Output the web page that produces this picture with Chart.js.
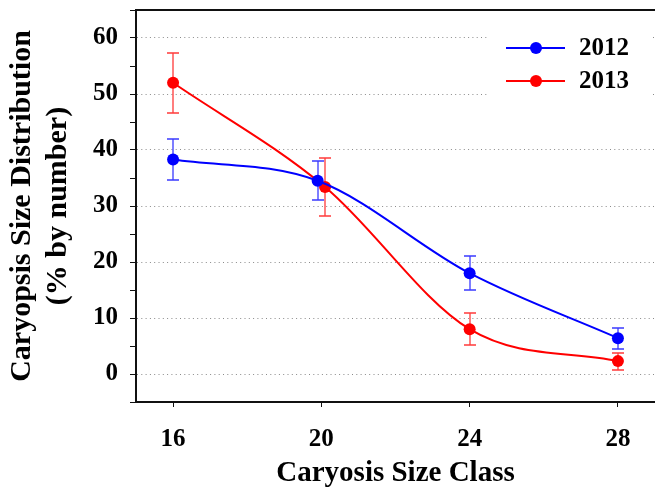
<!DOCTYPE html>
<html>
<head>
<meta charset="utf-8">
<script src="https://cdn.jsdelivr.net/npm/chart.js@4.4.0/dist/chart.umd.min.js"></script>
<style>
  html, body { margin: 0; padding: 0; background: #fff; }
</style>
</head>
<body>
<canvas id="sizeChart" width="655" height="489"></canvas>
<script>
// values
var sizeClass2012 = [16, 19.9, 24, 28];
var sizeClass2013 = [16, 20.1, 24, 28];
var dist2012 = [38.3, 34.5, 18.0, 6.4];
var dist2013 = [52.0, 33.4, 8.0, 2.3];
var err2012 = [3.7, 3.5, 3.0, 1.9];
var err2013 = [5.4, 5.2, 2.9, 1.5];
var xTickLabels = [16, 20, 24, 28];
var yTickLabels = [0, 10, 20, 30, 40, 50, 60];
var yMinorTicks = [-5, 5, 15, 25, 35, 45, 55, 65];

var serif = '"Liberation Serif", "Times New Roman", serif';

function toPoints(xs, ys){
    return xs.map(function(x, i){ return {x: x, y: ys[i]}; });
}

var errorBars = {
    id: 'errorBars',
    beforeDatasetsDraw: function(chart){
        var ctx = chart.ctx, sx = chart.scales.x, sy = chart.scales.y;
        chart.data.datasets.forEach(function(ds){
            ctx.save();
            ctx.strokeStyle = ds.errorColor;
            ctx.lineWidth = 1.3;
            ds.data.forEach(function(p, i){
                var px = Math.round(sx.getPixelForValue(p.x));
                var top = Math.round(sy.getPixelForValue(p.y + ds.errors[i]));
                var bot = Math.round(sy.getPixelForValue(p.y - ds.errors[i]));
                ctx.beginPath();
                ctx.moveTo(px, top); ctx.lineTo(px, bot);
                ctx.moveTo(px - 6, top); ctx.lineTo(px + 6, top);
                ctx.moveTo(px - 6, bot); ctx.lineTo(px + 6, bot);
                ctx.stroke();
            });
            ctx.restore();
        });
    }
};

var frameAndLegend = {
    id: 'frameAndLegend',
    afterDraw: function(chart){
        var ctx = chart.ctx, a = chart.chartArea;
        ctx.save();
        // top edge of the frame
        ctx.strokeStyle = '#111';
        ctx.lineWidth = 2;
        ctx.beginPath();
        ctx.moveTo(a.left - 1, a.top);
        ctx.lineTo(a.right, a.top);
        ctx.stroke();

        // legend inside the plot
        ctx.fillStyle = '#fff';
        ctx.fillRect(a.right - 168, a.top + 16, 166, 72);
        chart.data.datasets.forEach(function(ds, i){
            var y = a.top + 38 + i * 33;
            ctx.strokeStyle = ds.borderColor;
            ctx.lineWidth = 2;
            ctx.beginPath();
            ctx.moveTo(a.right - 149, y);
            ctx.lineTo(a.right - 90, y);
            ctx.stroke();
            ctx.fillStyle = ds.borderColor;
            ctx.beginPath();
            ctx.arc(a.right - 119, y, 6, 0, Math.PI * 2);
            ctx.fill();
            ctx.fillStyle = '#000';
            ctx.font = 'bold 25px ' + serif;
            ctx.textBaseline = 'middle';
            ctx.fillText(ds.label, a.right - 76, y + 1);
        });
        ctx.restore();
    }
};

var ctx = document.getElementById('sizeChart').getContext('2d');
var config = {
    type: 'line',
    data: {
        datasets: [{
            label: '2012',
            data: toPoints(sizeClass2012, dist2012),
            errors: err2012,
            errorColor: '#3a3aff',
            borderColor: '#0000ff',
            backgroundColor: '#0000ff',
            borderWidth: 2,
            pointRadius: 6,
            pointBorderWidth: 0,
            cubicInterpolationMode: 'monotone'
        }, {
            label: '2013',
            data: toPoints(sizeClass2013, dist2013),
            errors: err2013,
            errorColor: '#ff3a3a',
            borderColor: '#ff0000',
            backgroundColor: '#ff0000',
            borderWidth: 2,
            pointRadius: 6,
            pointBorderWidth: 0,
            cubicInterpolationMode: 'monotone'
        }]
    },
    options: {
        responsive: false,
        animation: false,
        layout: { autoPadding: false, padding: { top: 10, right: 0, left: 0, bottom: 0 } },
        plugins: {
            legend: { display: false },
            tooltip: { enabled: false }
        },
        scales: {
            x: {
                type: 'linear',
                min: 15,
                max: 29,
                afterBuildTicks: function(axis){
                    axis.ticks = xTickLabels.map(function(v){ return {value: v}; });
                },
                afterFit: function(axis){
                    axis.height = 87;
                    axis.paddingLeft = 0;
                    axis.paddingRight = 0;
                },
                grid: {
                    drawOnChartArea: false,
                    tickLength: 5,
                    tickColor: '#111',
                    tickWidth: 1
                },
                border: { color: '#111', width: 2 },
                ticks: {
                    autoSkip: false,
                    padding: 18,
                    color: '#000',
                    font: { family: serif, size: 25, weight: 'bold' }
                },
                title: {
                    display: true,
                    text: 'Caryosis Size Class',
                    color: '#000',
                    padding: { top: 0, bottom: 1 },
                    font: { family: serif, size: 29, weight: 'bold', lineHeight: 1.0 }
                }
            },
            y: {
                min: -5,
                max: 65,
                afterBuildTicks: function(axis){
                    axis.ticks = yTickLabels.concat(yMinorTicks)
                        .sort(function(a, b){ return a - b; })
                        .map(function(v){ return {value: v}; });
                },
                afterFit: function(axis){
                    axis.width = 136;
                    axis.paddingTop = 0;
                    axis.paddingBottom = 0;
                },
                grid: {
                    color: function(c){
                        return yTickLabels.indexOf(c.tick && c.tick.value) >= 0 ? '#8a8a8a' : 'rgba(0,0,0,0)';
                    },
                    lineWidth: 1,
                    tickLength: 6,
                    tickColor: '#111',
                    tickBorderDash: []
                },
                border: { color: '#111', width: 2, dash: [1, 3.3] },
                ticks: {
                    autoSkip: false,
                    padding: 12,
                    color: '#000',
                    font: { family: serif, size: 25, weight: 'bold' },
                    callback: function(value){
                        return yTickLabels.indexOf(value) >= 0 ? value : '';
                    }
                },
                title: {
                    display: true,
                    text: ['Caryopsis Size Distribution', '(% by number)'],
                    color: '#000',
                    padding: { top: 4, bottom: 0 },
                    font: { family: serif, size: 30, weight: 'bold', lineHeight: 1.2 }
                }
            }
        }
    },
    plugins: [errorBars, frameAndLegend]
};
var sizeChart = new Chart(ctx, config);
</script>
</body>
</html>
